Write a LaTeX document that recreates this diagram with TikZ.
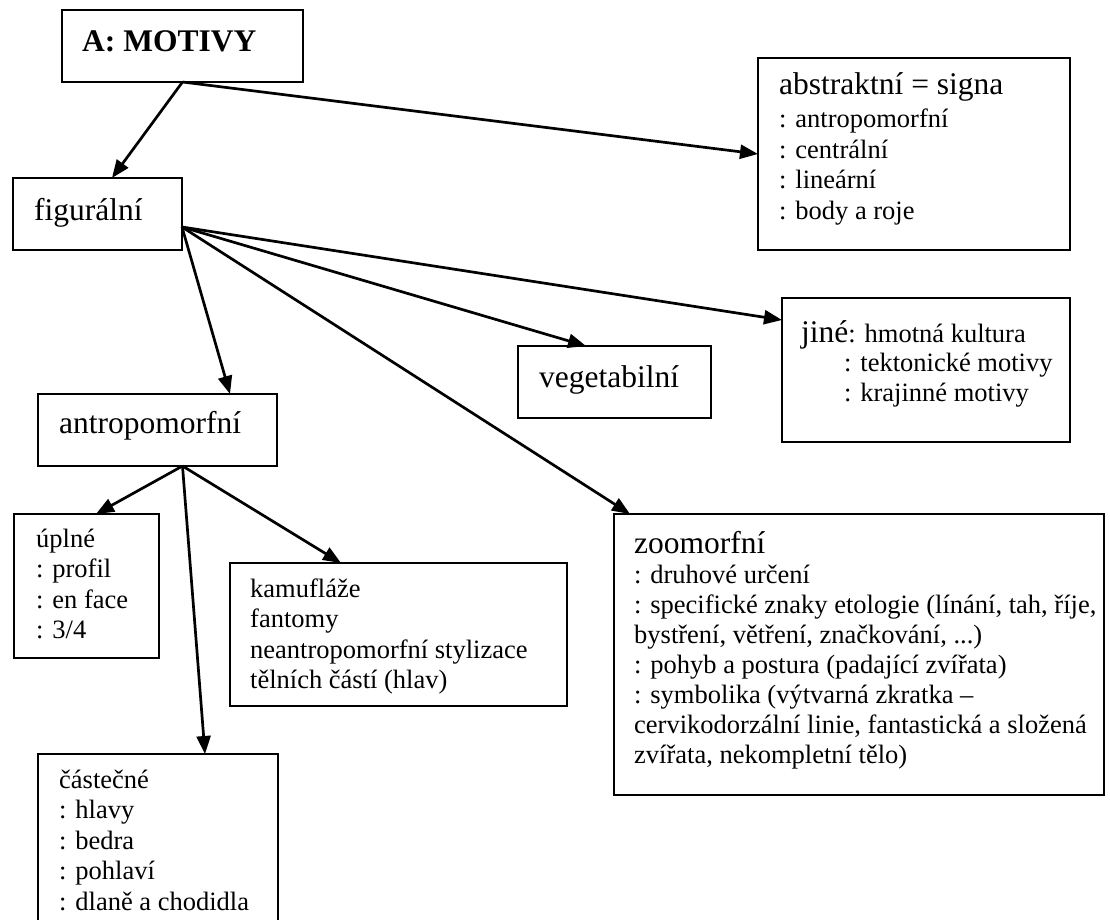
\documentclass[tikz,border=0pt]{standalone}
\usepackage{fontspec}
\setmainfont{Liberation Serif}
\usetikzlibrary{arrows.meta}
\tikzset{
  box/.style={draw, line width=2.2pt, inner sep=0pt, outer sep=0pt, anchor=north west},
  body/.style={anchor=base west, inner sep=0pt, font=\fontsize{26.5}{30.5}\selectfont},
  ttl/.style={anchor=base west, inner sep=0pt, font=\fontsize{31.5}{36}\selectfont},
  arr/.style={line width=2.7pt, -{Triangle[length=18pt,width=14pt]}}
}
\begin{document}
\begin{tikzpicture}[x=1pt,y=-1pt]
\useasboundingbox (0,0) rectangle (1110,920);
\clip (0,0) rectangle (1110,920);
% boxes
\node[box, minimum width=241pt, minimum height=72pt] (A) at (62,10) {};
\node[box, minimum width=169pt, minimum height=72pt] (fig) at (13,178) {};
\node[box, minimum width=312pt, minimum height=192pt] (abs) at (758,58) {};
\node[box, minimum width=288pt, minimum height=144pt] (jine) at (782,298) {};
\node[box, minimum width=193pt, minimum height=72pt] (veg) at (518,346) {};
\node[box, minimum width=239pt, minimum height=72pt] (ant) at (38,394) {};
\node[box, minimum width=145pt, minimum height=144pt] (upl) at (14,514) {};
\node[box, minimum width=337pt, minimum height=143pt] (kam) at (230,563) {};
\node[box, minimum width=490pt, minimum height=281pt] (zoo) at (614,514) {};
\node[box, minimum width=240pt, minimum height=250pt] (cast) at (38,754) {};
% texts
\node[ttl, font=\fontsize{31.5}{36}\selectfont\bfseries] (tA) at (82,52) {A: MOTIVY};
\node[ttl] (tfig) at (34,220) {figurální};
\node[ttl] (tabs0) at (779,95) {abstraktní = signa};
\node[body] (tabs1) at (779,128) {: antropomorfní};
\node[body] (tabs2) at (779,158.5) {: centrální};
\node[body] (tabs3) at (779,189) {: lineární};
\node[body] (tabs4) at (779,219.5) {: body a roje};
\node[ttl] (tjine0) at (801,342) {jiné\fontsize{26.5}{30.5}\selectfont: hmotná kultura};
\node[body] (tjine1) at (844,371) {: tektonické motivy};
\node[body] (tjine2) at (844,401) {: krajinné motivy};
\node[ttl] (tveg) at (539,387) {vegetabilní};
\node[ttl] (tant) at (59,433) {antropomorfní};
\node[body] (tupl0) at (36,547) {úplné};
\node[body] (tupl1) at (36,577.5) {: profil};
\node[body] (tupl2) at (36,608) {: en face};
\node[body] (tupl3) at (36,638.5) {: 3/4};
\node[body] (tkam0) at (250,597) {kamufláže};
\node[body] (tkam1) at (250,627.5) {fantomy};
\node[body] (tkam2) at (250,658) {neantropomorfní stylizace};
\node[body] (tkam3) at (250,688.5) {tělních částí (hlav)};
\node[ttl] (tzoo0) at (634,553) {zoomorfní};
\node[body] (tzoo1) at (634,583) {: druhové určení};
\node[body] (tzoo2) at (634,613) {: specifické znaky etologie (línání, tah, říje,};
\node[body] (tzoo3) at (634,643) {bystření, větření, značkování, ...)};
\node[body] (tzoo4) at (634,673) {: pohyb a postura (padající zvířata)};
\node[body] (tzoo5) at (634,703) {: symbolika (výtvarná zkratka –};
\node[body] (tzoo6) at (634,733) {cervikodorzální linie, fantastická a složená};
\node[body] (tzoo7) at (634,763) {zvířata, nekompletní tělo)};
\node[body] (tcast0) at (59,788) {částečné};
\node[body] (tcast1) at (59,818.5) {: hlavy};
\node[body] (tcast2) at (59,849) {: bedra};
\node[body] (tcast3) at (59,879.5) {: pohlaví};
\node[body] (tcast4) at (59,910) {: dlaně a chodidla};
% connectors
\draw[arr] (A.south) -- ([xshift=14.5pt]fig.north);
\draw[arr] (A.south) -- (abs.west);
\draw[arr] ([yshift=-13pt]fig.east) -- ([xshift=72.5pt]ant.north);
\draw[arr] ([yshift=-13pt]fig.east) -- ([xshift=-28.5pt]veg.north);
\draw[arr] ([yshift=-13pt]fig.east) -- ([yshift=50pt]jine.west);
\draw[arr] ([yshift=-13pt]fig.east) -- ([xshift=16pt]zoo.north west);
\draw[arr] ([xshift=25pt]ant.south) -- ([xshift=9.5pt]upl.north);
\draw[arr] ([xshift=25pt]ant.south) -- ([xshift=111pt]kam.north west);
\draw[arr] ([xshift=25pt]ant.south) -- ([xshift=167pt]cast.north west);
\end{tikzpicture}
\end{document}
